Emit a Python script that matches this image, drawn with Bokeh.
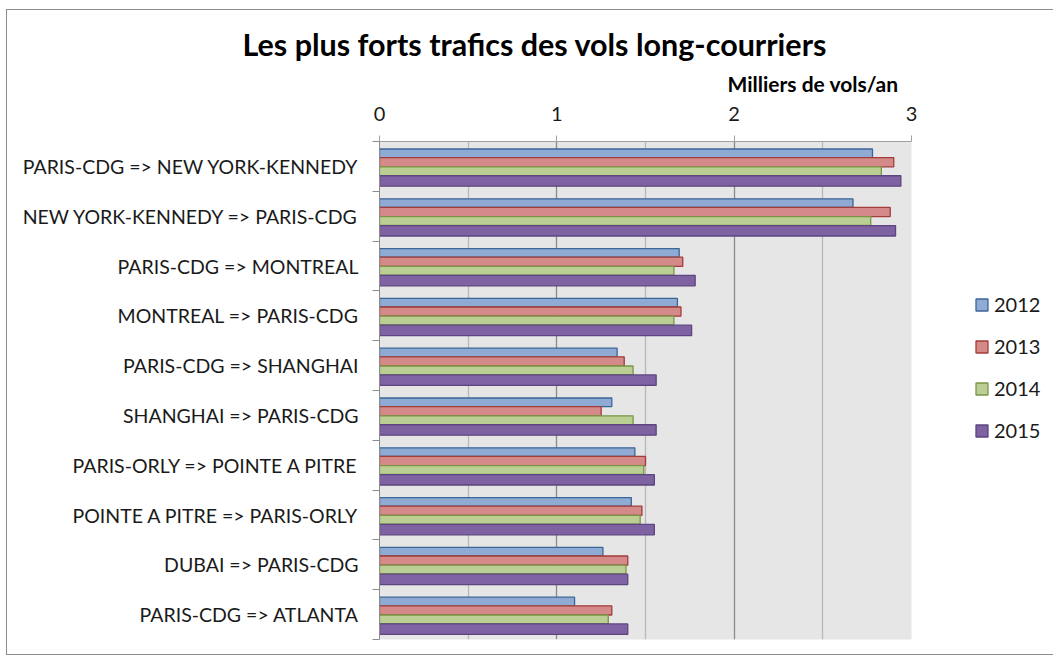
from bokeh.plotting import figure
from bokeh.models import (Range1d, FixedTicker, ColumnDataSource,
                          Legend, LegendItem, Title)
from bokeh.embed import file_html
from bokeh.resources import INLINE

categories = [
    "PARIS-CDG => NEW YORK-KENNEDY",
    "NEW YORK-KENNEDY => PARIS-CDG",
    "PARIS-CDG => MONTREAL",
    "MONTREAL => PARIS-CDG",
    "PARIS-CDG => SHANGHAI",
    "SHANGHAI => PARIS-CDG",
    "PARIS-ORLY => POINTE A PITRE",
    "POINTE A PITRE => PARIS-ORLY",
    "DUBAI => PARIS-CDG",
    "PARIS-CDG => ATLANTA",
]
years = ["2012", "2013", "2014", "2015"]
v2012 = [2.78, 2.67, 1.69, 1.68, 1.34, 1.31, 1.44, 1.42, 1.26, 1.10]
v2013 = [2.90, 2.88, 1.71, 1.70, 1.38, 1.25, 1.50, 1.48, 1.40, 1.31]
v2014 = [2.83, 2.77, 1.66, 1.66, 1.43, 1.43, 1.49, 1.47, 1.39, 1.29]
v2015 = [2.94, 2.91, 1.78, 1.76, 1.56, 1.56, 1.55, 1.55, 1.40, 1.40]
x_ticks = [0, 1, 2, 3]

series = [v2012, v2013, v2014, v2015]
fills = ["#8FAAD3", "#D38A89", "#BBCF94", "#7F62A1"]
lines = ["#3B6698", "#A33D3B", "#7A9645", "#5C4580"]
offsets = [-0.263, -0.084, 0.096, 0.293]
heights = [0.172, 0.185, 0.175, 0.21]

FONT = "Lato"
n = len(categories)

p = figure(frame_width=532, frame_height=498,
           output_backend="svg", toolbar_location=None,
           x_range=Range1d(0, 3), y_range=Range1d(n, 0),
           x_axis_location="above", y_axis_location="left",
           min_border_left=372, min_border_right=135,
           min_border_top=131, min_border_bottom=15,
           background_fill_color="#E6E6E6", border_fill_color="white",
           outline_line_color=None)
p.styles = {"border": "1px solid #8c8c8c", "margin-left": "6px", "margin-top": "9px"}

# title
p.title.text = "Les plus forts trafics des vols long-courriers"
p.title.text_font = FONT
p.title.text_font_size = "30.5px"
p.title.text_font_style = "bold"
p.title.text_color = "#000000"
p.title.align = "left"
p.title.offset = -137
p.title.standoff = 0

unit = Title(text="Milliers  de vols/an", align="left", offset=348,
             text_font=FONT, text_font_size="21px", text_font_style="bold",
             text_color="#000000", standoff=15, text_line_height=0.9)
p.add_layout(unit, "above")

# x axis (top)
xa = p.xaxis[0]
xa.ticker = FixedTicker(ticks=x_ticks, minor_ticks=[0.5, 1.5, 2.5])
xa.major_label_text_font = FONT
xa.major_label_text_font_size = "20px"
xa.major_label_text_color = "#1a1a1a"
xa.major_label_standoff = 15
xa.major_tick_out = 6
xa.major_tick_in = 0
xa.minor_tick_out = 0
xa.minor_tick_in = 0
xa.axis_line_color = "#a0a0a0"
xa.major_tick_line_color = "#a0a0a0"

p.xgrid.ticker = FixedTicker(ticks=x_ticks, minor_ticks=[0.5, 1.5, 2.5])
p.xgrid.grid_line_color = "#8a8a8a"
p.xgrid.grid_line_width = 1.3
p.xgrid.minor_grid_line_color = "#b8b8b8"
p.xgrid.minor_grid_line_width = 1.3
p.ygrid.visible = False

# y axis: labels at category centres, boundary ticks as minor ticks
centers = [i + 0.5 for i in range(n)]
bounds = list(range(n + 1))
ya = p.yaxis[0]
ya.ticker = FixedTicker(ticks=centers, minor_ticks=bounds)
ya.major_label_overrides = {c: cat for c, cat in zip(centers, categories)}
ya.major_label_text_font = FONT
ya.major_label_text_font_size = "19.5px"
ya.major_label_text_color = "#1a1a1a"
ya.major_tick_out = 0
ya.major_tick_in = 0
ya.major_tick_line_color = None
ya.minor_tick_out = 7
ya.minor_tick_in = 0
ya.minor_tick_line_color = "#8c8c8c"
ya.axis_line_color = "#8c8c8c"
ya.major_label_standoff = 14

# bars
items = []
for yr, vals, fc, lc, off, h in zip(years, series, fills, lines, offsets, heights):
    src = ColumnDataSource(dict(y=[i + 0.5 + off for i in range(n)], v=vals,
                                cat=categories))
    r = p.hbar(y="y", right="v", left=0, height=h, source=src,
               fill_color=fc, line_color=lc, line_width=1.3)
    items.append(LegendItem(label=yr, renderers=[r]))

legend = Legend(items=items, location=(63, 197), orientation="vertical",
                glyph_width=15, glyph_height=15, label_standoff=5,
                spacing=18, padding=0, margin=0,
                label_text_font=FONT, label_text_font_size="20px",
                label_text_color="#1a1a1a",
                border_line_color=None, background_fill_alpha=0)
p.add_layout(legend, "right")

open("out.html", "w").write(file_html(p, INLINE))
